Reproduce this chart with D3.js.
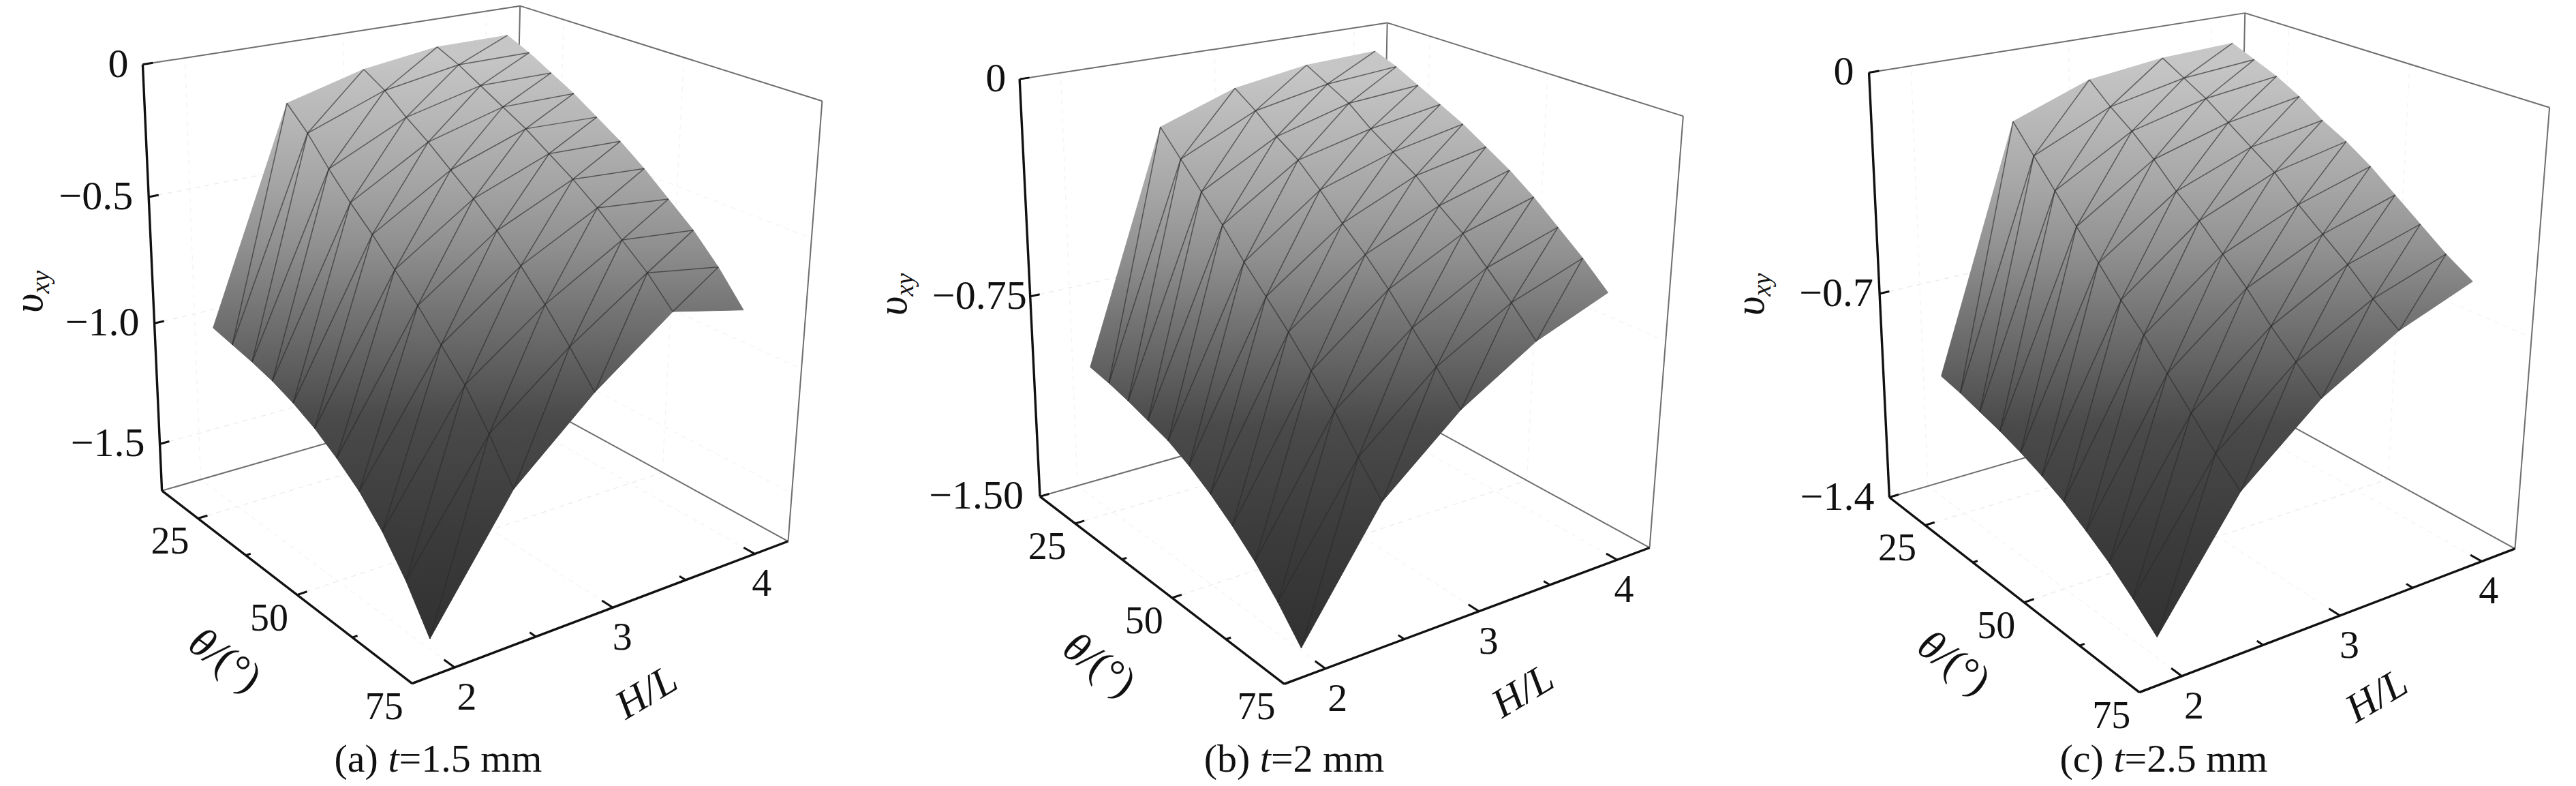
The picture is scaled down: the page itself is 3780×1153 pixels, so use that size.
<!DOCTYPE html>
<html><head><meta charset="utf-8"><script src="https://d3js.org/d3.v7.min.js"></script>
<style>html,body{margin:0;background:#fff}text{font-family:"Liberation Serif",serif;fill:#111}</style></head>
<body><svg id="c" width="3780" height="1153"></svg>
<script>
// ---- data ----
const thetaValues=[20,25,30,35,40,45,50,55,60,65,70];
const hlValues=[2,2.5,3,3.5,4];
const vxyA=[
[-1.01,-1.03,-1.05,-1.075,-1.11,-1.155,-1.215,-1.285,-1.38,-1.505,-1.66],
[-0.19,-0.27,-0.37,-0.46,-0.54,-0.63,-0.72,-0.82,-0.92,-1.05,-1.20],
[-0.11,-0.16,-0.23,-0.29,-0.36,-0.43,-0.51,-0.60,-0.70,-0.81,-0.93],
[-0.07,-0.11,-0.16,-0.21,-0.26,-0.32,-0.38,-0.45,-0.53,-0.61,-0.71],
[-0.07,-0.11,-0.16,-0.21,-0.27,-0.33,-0.40,-0.48,-0.56,-0.66,-0.78]];
const vxyB=[
[-1.00,-1.015,-1.035,-1.06,-1.085,-1.125,-1.175,-1.235,-1.305,-1.39,-1.49],
[-0.20,-0.28,-0.36,-0.44,-0.53,-0.61,-0.69,-0.78,-0.87,-0.98,-1.08],
[-0.11,-0.16,-0.22,-0.27,-0.34,-0.42,-0.49,-0.57,-0.66,-0.75,-0.85],
[-0.07,-0.11,-0.15,-0.21,-0.26,-0.31,-0.38,-0.44,-0.52,-0.60,-0.69],
[-0.06,-0.09,-0.13,-0.17,-0.21,-0.26,-0.31,-0.37,-0.44,-0.51,-0.59]];
const vxyC=[
[-0.97,-0.985,-1.005,-1.025,-1.05,-1.08,-1.115,-1.16,-1.21,-1.27,-1.335],
[-0.19,-0.27,-0.35,-0.43,-0.51,-0.59,-0.66,-0.74,-0.82,-0.90,-0.97],
[-0.10,-0.16,-0.21,-0.27,-0.34,-0.40,-0.47,-0.54,-0.62,-0.69,-0.76],
[-0.07,-0.11,-0.15,-0.20,-0.25,-0.30,-0.37,-0.43,-0.49,-0.56,-0.62],
[-0.06,-0.09,-0.12,-0.16,-0.21,-0.25,-0.30,-0.36,-0.42,-0.48,-0.53]];
const thetaTicks=[25,50,75], thetaMinor=[37.5,62.5];
const hlTicks=[2,3,4], hlMinor=[2.5,3.5];
const zTicksA=[0,-0.5,-1.0,-1.5], zLabelsA=["0","\u22120.5","\u22121.0","\u22121.5"];
const zTicksB=[0,-0.75,-1.5], zLabelsB=["0","\u22120.75","\u22121.50"];
const zTicksC=[0,-0.7,-1.4], zLabelsC=["0","\u22120.7","\u22121.4"];
const captions=[["(a) ","t","=1.5 mm"],["(b) ","t","=2 mm"],["(c) ","t","=2.5 mm"]];
const thetaDomain=[15,75], hlDomain=[1.75,4.25];

// ---- layout (box corners on the page: top-left, bottom-left, front, bottom-right, top-right, top-back, floor-back) ----
const panels=[
{vals:vxyA,zMin:-1.7,zT:zTicksA,zL:zLabelsA,cap:captions[0],capX:643,yl:[62,459],th:[331,967],hl:[948,1015],zGap:[21,23,22,22],
 c:[[210.5,94.1],[237,720.6],[604.3,1002.2],[1155.6,794.1],[1207.8,148.5],[761,8.8],[752.2,571.3]]},
{vals:vxyB,zMin:-1.5,zT:zTicksB,zL:zLabelsB,cap:captions[1],capX:1899,yl:[1330,463],th:[1614,974],hl:[2234,1013],zGap:[20,5,24],
 c:[[1497.1,116.2],[1525.2,727.9],[1884.4,1003.7],[2419.6,802.9],[2471,170.6],[2033.9,33.1],[2025.8,586.8]]},
{vals:vxyC,zMin:-1.4,zT:zTicksC,zL:zLabelsC,cap:captions[2],capX:3175,yl:[2588,463],th:[2868,971],hl:[3487,1020],zGap:[22,9,22],
 c:[[2742.6,106.6],[2771.5,730.1],[3140.4,1014.7],[3689.2,806.6],[3741.5,156.6],[3293.9,19.9],[3283.4,579.4]]}];
const boxUVW=[[0,0,1],[0,0,0],[1,0,0],[1,1,0],[1,1,1],[0,1,1],[0,1,0]];
const grayStops=[[0.01,"#c6c6c6"],[0.11,"#b8b8b8"],[0.22,"#a6a6a6"],[0.33,"#909090"],[0.44,"#747474"],[0.62,"#4a4a4a"],[0.8,"#3c3c3c"],[0.96,"#333333"],[1,"#323232"]];
const hlLabelDx=[18,14,10];

// ---- camera: projective map fitted to the box corners ----
function solve(A,b){const n=b.length;A=A.map((r,i)=>[...r,b[i]]);
 for(let i=0;i<n;i++){let m=i;for(let k=i+1;k<n;k++)if(Math.abs(A[k][i])>Math.abs(A[m][i]))m=k;[A[i],A[m]]=[A[m],A[i]];
  for(let k=i+1;k<n;k++){const f=A[k][i]/A[i][i];for(let j=i;j<=n;j++)A[k][j]-=f*A[i][j];}}
 const x=Array(n);for(let i=n-1;i>=0;i--){let s=A[i][n];for(let j=i+1;j<n;j++)s-=A[i][j]*x[j];x[i]=s/A[i][i];}return x;}
function fitCamera(pts){const R=[],B=[];pts.forEach((q,i)=>{const[u,v,w]=boxUVW[i],X=q[0],Y=q[1];
  R.push([u,v,w,1,0,0,0,0,-X*u,-X*v,-X*w]);B.push(X);R.push([0,0,0,0,u,v,w,1,-Y*u,-Y*v,-Y*w]);B.push(Y);});
 const N=11,A=Array.from({length:N},()=>Array(N).fill(0)),b=Array(N).fill(0);
 R.forEach((r,k)=>{for(let i=0;i<N;i++){b[i]+=r[i]*B[k];for(let j=0;j<N;j++)A[i][j]+=r[i]*r[j];}});
 const p=solve(A,b);
 return (u,v,w)=>{const d=p[8]*u+p[9]*v+p[10]*w+1;return[(p[0]*u+p[1]*v+p[2]*w+p[3])/d,(p[4]*u+p[5]*v+p[6]*w+p[7])/d];};}

const svg=d3.select("#c"),defs=svg.append("defs");
const U=d3.scaleLinear().domain(thetaDomain).range([0,1]);
const V=d3.scaleLinear().domain(hlDomain).range([0,1]);
const line=d3.line();

panels.forEach((P,pi)=>{
 const cam=fitCamera(P.c);
 const W=d3.scaleLinear().domain([P.zMin,0]).range([0,1]);
 const g=svg.append("g");
 const seg=(a,b,col,w,dash)=>g.append("path").attr("d",line([cam(...a),cam(...b)])).attr("fill","none").attr("stroke",col).attr("stroke-width",w).attr("stroke-dasharray",dash||null);
 // faint grid
 const gridA="#ececec",gridB="#f4f4f4",dd="7 7";
 P.zT.forEach(z=>{const w=W(z);if(z===0)return;seg([0,0,w],[0,1,w],gridA,1.4,dd);seg([0,1,w],[1,1,w],gridB,1.4,dd);});
 thetaTicks.forEach(t=>{const u=U(t);if(u>=1)return;seg([u,0,0],[u,1,0],gridA,1.4,dd);seg([u,1,0],[u,1,1],gridB,1.4,dd);});
 hlTicks.forEach(h=>{const v=V(h);seg([1,v,0],[0,v,0],gridB,1.4,dd);seg([0,v,0],[0,v,1],gridB,1.4,dd);});
 // gray box lines
 const gc="#6e6e6e";
 seg([0,0,1],[0,1,1],gc,2);seg([0,1,1],[1,1,1],gc,2);seg([1,1,1],[1,1,0],gc,2);
 seg([0,0,0],[0,1,0],gc,2);seg([0,1,0],[1,1,0],gc,2);seg([0,1,1],[0,1,0],gc,2);
 // black axes
 const bk="#111";
 seg([0,0,1],[0,0,0],bk,3.4);seg([0,0,0],[1,0,0],bk,3.4);seg([1,0,0],[1,1,0],bk,3.4);
 // ticks
 P.zT.forEach(z=>seg([0,0,W(z)],[0,.024,W(z)],bk,3));
 thetaTicks.forEach(t=>seg([U(t),0,0],[U(t),.024,0],bk,3));
 thetaMinor.forEach(t=>seg([U(t),0,0],[U(t),.012,0],bk,3));
 hlTicks.forEach(h=>seg([1,V(h),0],[.965,V(h),0],bk,3));
 hlMinor.forEach(h=>seg([1,V(h),0],[.98,V(h),0],bk,3));
 // tick labels
 P.zT.forEach((z,i)=>{const q=cam(0,0,W(z));g.append("text").attr("x",q[0]-P.zGap[i]).attr("y",q[1]+18).attr("text-anchor","end").attr("font-size",60).text(P.zL[i]);});
 thetaTicks.forEach(t=>{const q=cam(U(t),0,0);g.append("text").attr("x",q[0]-41).attr("y",q[1]+52).attr("text-anchor","middle").attr("font-size",56).text(t);});
 hlTicks.forEach((h,i)=>{const q=cam(1,V(h),0);g.append("text").attr("x",q[0]+hlLabelDx[i]).attr("y",q[1]+62).attr("text-anchor","middle").attr("font-size",58).text(h);});
 // axis titles
 const yt=g.append("text").attr("transform",`translate(${P.yl[0]},${P.yl[1]}) rotate(-90)`).attr("font-size",62).attr("font-style","italic");
 yt.append("tspan").text("\u03c5");yt.append("tspan").attr("font-size",38).attr("dy",10).text("xy");
 const tt=g.append("text").attr("transform",`translate(${P.th[0]},${P.th[1]}) rotate(36)`).attr("text-anchor","middle").attr("dominant-baseline","central").attr("font-size",62);
 tt.append("tspan").attr("font-style","italic").text("\u03b8/");tt.append("tspan").text("(\u00b0)");
 g.append("text").attr("transform",`translate(${P.hl[0]},${P.hl[1]}) rotate(-31)`).attr("text-anchor","middle").attr("dominant-baseline","central").attr("font-size",60).attr("font-style","italic").text("H/L");
 // caption
 const ct=g.append("text").attr("x",P.capX).attr("y",1132).attr("text-anchor","middle").attr("font-size",58);
 ct.append("tspan").text(P.cap[0]);ct.append("tspan").attr("font-style","italic").text(P.cap[1]);ct.append("tspan").text(P.cap[2]);

 // surface
 const gid="sg"+pi,mid=cam(.5,.5,1),bot=cam(.5,.5,0);
 const gy1=mid[1]-50,gy2=gy1+1.376*(bot[1]-mid[1]);
 const lg=defs.append("linearGradient").attr("id",gid).attr("gradientUnits","userSpaceOnUse").attr("x1",0).attr("x2",0).attr("y1",gy1).attr("y2",gy2);
 grayStops.forEach(s=>lg.append("stop").attr("offset",s[0]).attr("stop-color",s[1]));
 const node=(j,i)=>cam(U(thetaValues[i]),V(hlValues[j]),W(P.vals[j][i]));
 const tris=[],edges=[];
 hlValues.forEach((h,j)=>thetaValues.forEach((t,i)=>{
   if(j<hlValues.length-1&&i<thetaValues.length-1){
     tris.push([node(j,i),node(j,i+1),node(j+1,i)],[node(j,i+1),node(j+1,i+1),node(j+1,i)]);
     edges.push([node(j,i+1),node(j+1,i)]);}
   if(j>0&&j<hlValues.length-1&&i<thetaValues.length-1)edges.push([node(j,i),node(j,i+1)]);
   if(i>0&&i<thetaValues.length-1&&j<hlValues.length-1)edges.push([node(j,i),node(j+1,i)]);
 }));
 g.append("g").selectAll("path").data(tris).join("path").attr("d",d=>line(d)+"Z")
  .attr("fill",`url(#${gid})`).attr("stroke",`url(#${gid})`).attr("stroke-width",1).attr("stroke-linejoin","round");
 g.append("g").selectAll("path").data(edges).join("path").attr("d",d=>line(d))
  .attr("fill","none").attr("stroke","#2a2a2a").attr("stroke-opacity",.65).attr("stroke-width",1.5);
});
</script></body></html>
